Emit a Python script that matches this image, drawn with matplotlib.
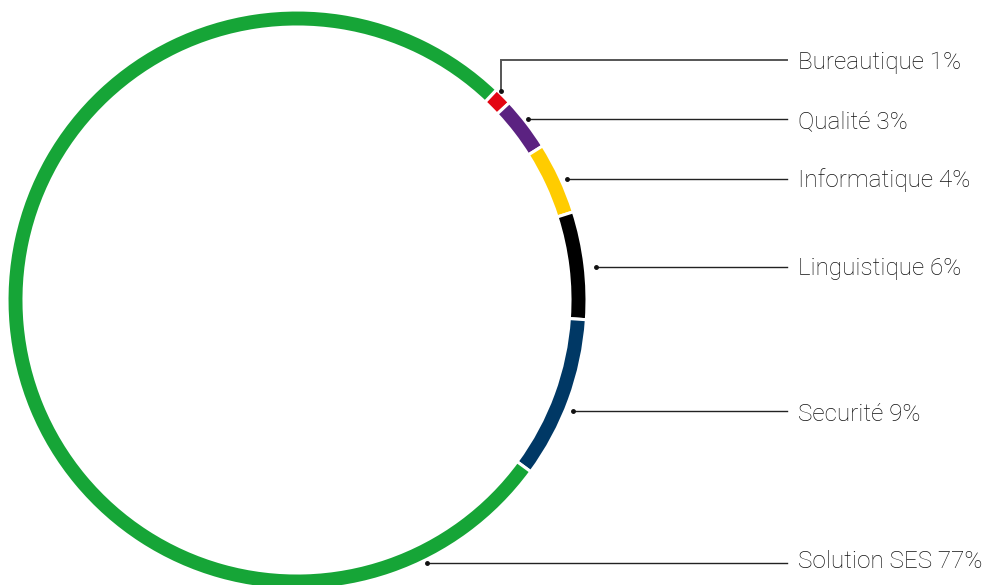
import numpy as np
import matplotlib
matplotlib.use("Agg")
import matplotlib.pyplot as plt

categories = ["Bureautique", "Qualité", "Informatique", "Linguistique", "Securité", "Solution SES"]
values = [1, 3, 4, 6, 9, 77]
colors = ["#E30613", "#5B2281", "#FFCC00", "#000000", "#003865", "#16A537"]

W, H = 985, 585
fig = plt.figure(figsize=(W / 100, H / 100), dpi=100)
ax = fig.add_axes([0, 0, 1, 1])

cx, cy = 297, H - 300
R = 290
ring = 17
start_cw_from_top = 43.5

wedges, _ = ax.pie(values, colors=colors, startangle=90 - start_cw_from_top,
                   counterclock=False, center=(cx, cy), radius=R,
                   wedgeprops=dict(width=ring, edgecolor="white", linewidth=2.2))

ax.set_xlim(0, W)
ax.set_ylim(0, H)
ax.set_aspect("equal")
ax.axis("off")

line_end = 787
text_x = 798
# layout: leader anchor points (pixel coords from top-left) and text baselines
anchors = [(501, 90.5), (527.5, 119), (566.5, 179), (596, 266.7), (573, 411), (427, 562.7)]
baselines = [69, 128, 187.5, 275.5, 421, 567.5]

for i, (cat, v) in enumerate(zip(categories, values)):
    px, py = anchors[i]
    dx, dy = px, H - py
    if i == 0:
        ly = H - 59.5
        ax.plot([dx, dx, line_end], [dy, ly, ly], color="#555555", lw=1.4,
                solid_joinstyle="miter")
    else:
        ly = dy
        ax.plot([dx, line_end], [ly, ly], color="#222222", lw=1.0)
    ax.plot([dx], [dy], marker="o", ms=2.5, color="#111111")
    ax.text(text_x, H - baselines[i], f"{cat} {v}%", ha="left", va="baseline",
            fontsize=17.5, fontfamily="Roboto", fontweight="light", color="#111111")

fig.savefig("out.png", dpi=100)
